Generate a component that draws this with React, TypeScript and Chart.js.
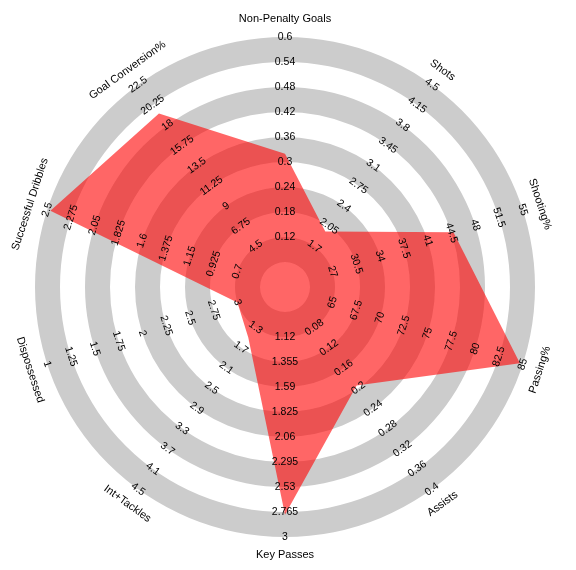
import React, { useEffect, useRef } from "react";
import { Chart, registerables } from "chart.js";

Chart.register(...registerables);

const params = [
  "Non-Penalty Goals",
  "Shots",
  "Shooting%",
  "Passing%",
  "Assists",
  "Key Passes",
  "Int+Tackles",
  "Dispossessed",
  "Successful Dribbles",
  "Goal Conversion%",
];

const values = [0.32, 1.96, 44.8, 84.7, 0.195, 2.79, 1.5, 3.0, 2.47, 19.3];

const ringLabels: string[][] = [
  ["0.12", "0.18", "0.24", "0.3", "0.36", "0.42", "0.48", "0.54", "0.6"],
  ["1.7", "2.05", "2.4", "2.75", "3.1", "3.45", "3.8", "4.15", "4.5"],
  ["27", "30.5", "34", "37.5", "41", "44.5", "48", "51.5", "55"],
  ["65", "67.5", "70", "72.5", "75", "77.5", "80", "82.5", "85"],
  ["0.08", "0.12", "0.16", "0.2", "0.24", "0.28", "0.32", "0.36", "0.4"],
  ["1.12", "1.355", "1.59", "1.825", "2.06", "2.295", "2.53", "2.765", "3"],
  ["1.3", "1.7", "2.1", "2.5", "2.9", "3.3", "3.7", "4.1", "4.5"],
  ["3", "2.75", "2.5", "2.25", "2", "1.75", "1.5", "1.25", "1"],
  ["0.7", "0.925", "1.15", "1.375", "1.6", "1.825", "2.05", "2.275", "2.5"],
  ["4.5", "6.75", "9", "11.25", "13.5", "15.75", "18", "20.25", "22.5"],
];

const FONT = "'Liberation Sans', Arial, sans-serif";

function toUnits(v: number, labels: string[]) {
  const lo = Number(labels[0]);
  const hi = Number(labels[labels.length - 1]);
  const u = 2 + ((labels.length - 1) * (v - lo)) / (hi - lo);
  return Math.max(1, Math.min(10, u));
}

const radarDecor = {
  id: "radarDecor",
  beforeDatasetsDraw(chart: any) {
    const scale = chart.scales.r;
    const ctx = chart.ctx;
    const cx = scale.xCenter;
    const cy = scale.yCenter;
    ctx.save();
    ctx.fillStyle = "#cccccc";
    for (let u = 1; u < 10; u += 2) {
      const rIn = scale.getDistanceFromCenterForValue(u);
      const rOut = scale.getDistanceFromCenterForValue(u + 1);
      ctx.beginPath();
      ctx.arc(cx, cy, rOut, 0, Math.PI * 2, false);
      ctx.arc(cx, cy, rIn, 0, Math.PI * 2, true);
      ctx.closePath();
      ctx.fill();
    }
    ctx.restore();
  },
  afterDatasetsDraw(chart: any) {
    const scale = chart.scales.r;
    const ctx = chart.ctx;
    const n = params.length;
    ctx.save();
    ctx.fillStyle = "#000000";
    ctx.textAlign = "center";
    ctx.textBaseline = "middle";
    for (let i = 0; i < n; i++) {
      const deg = (i * 360) / n;
      const rotDeg = deg > 90 && deg < 270 ? deg - 180 : deg;
      const rot = (rotDeg * Math.PI) / 180;
      ctx.font = `10.5px ${FONT}`;
      ringLabels[i].forEach((lab, k) => {
        const p = scale.getPointPosition(i, scale.getDistanceFromCenterForValue(k + 2));
        ctx.save();
        ctx.translate(p.x, p.y);
        ctx.rotate(rot);
        ctx.fillText(lab, 0, 0);
        ctx.restore();
      });
      ctx.font = `11px ${FONT}`;
      const pp = scale.getPointPosition(i, scale.getDistanceFromCenterForValue(10.72));
      ctx.save();
      ctx.translate(pp.x, pp.y);
      ctx.rotate(rot);
      ctx.fillText(params[i], 0, 0);
      ctx.restore();
    }
    ctx.restore();
  },
};

export default function App() {
  const ref = useRef<HTMLCanvasElement | null>(null);
  useEffect(() => {
    if (!ref.current) return;
    const chart = new Chart(ref.current, {
      type: "radar",
      data: {
        labels: params,
        datasets: [
          {
            data: values.map((v, i) => toUnits(v, ringLabels[i])),
            backgroundColor: "rgba(255,0,0,0.6)",
            borderColor: "rgba(0,0,0,0)",
            borderWidth: 0,
            pointRadius: 0,
            pointHoverRadius: 0,
            fill: true,
            tension: 0,
          },
        ],
      },
      options: {
        responsive: false,
        animation: false,
        devicePixelRatio: 1,
        layout: { padding: { left: 27, right: 27, top: 29, bottom: 29 } },
        plugins: { legend: { display: false }, tooltip: { enabled: false } },
        scales: {
          r: {
            min: 0,
            max: 10,
            ticks: { display: false },
            grid: { display: false },
            angleLines: { display: false },
            pointLabels: { display: false },
          },
        },
      },
      plugins: [radarDecor],
    });
    return () => chart.destroy();
  }, []);
  return (
    <div>
      <canvas ref={ref} width={554} height={558} style={{ display: "block" }} />
    </div>
  );
}
